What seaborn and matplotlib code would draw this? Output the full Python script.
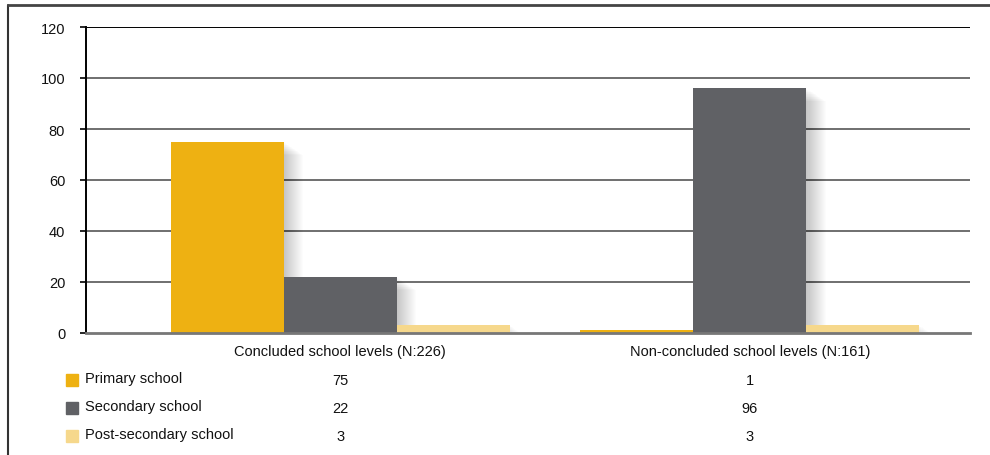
import matplotlib
matplotlib.use("Agg")
import matplotlib.pyplot as plt
import matplotlib.patheffects as pe
import matplotlib.transforms as mtransforms
from matplotlib.patches import Rectangle
from matplotlib.lines import Line2D
import seaborn as sns
import pandas as pd

categories = ["Concluded school levels (N:226)", "Non-concluded school levels (N:161)"]
series = ["Primary school", "Secondary school", "Post-secondary school"]
primary = [75, 1]
secondary = [22, 96]
post_secondary = [3, 3]
colors = ["#EEB112", "#606165", "#F6D88C"]
yticks = [0, 20, 40, 60, 80, 100, 120]

rows = []
for s, vals in zip(series, [primary, secondary, post_secondary]):
    for c, v in zip(categories, vals):
        rows.append({"category": c, "series": s, "value": v})
df = pd.DataFrame(rows)

sns.set_theme(style="white")
plt.rcParams["font.family"] = ["Liberation Sans", "DejaVu Sans"]

W, H = 990, 456
fig = plt.figure(figsize=(W / 100, H / 100), dpi=100)
ax = fig.add_axes([86 / W, 1 - 334 / H, (970 - 86) / W, (334 - 28) / H])

# gridlines
for t in yticks[1:]:
    ax.axhline(t, color="black" if t == 120 else "#6f6f6f", lw=1.4, zorder=0)

shadow = [pe.SimplePatchShadow(offset=(d * 0.75, -d * 0.5), shadow_rgbFace="black", alpha=0.012)
          for d in range(1, 20)] + [pe.Normal()]

sns.barplot(data=df, x="category", y="value", hue="series", order=categories,
            hue_order=series, palette=colors, width=0.827, saturation=1,
            legend=False, ax=ax, zorder=2, edgecolor="none")
for p in ax.patches:
    p.set_path_effects(shadow)

ax.set_xlim(-0.62, 1.537)
ax.set_ylim(0, 120)
ax.set_yticks(yticks)
ax.set_yticklabels([str(t) for t in yticks], fontsize=10.5, color="#111111")
ax.tick_params(axis="y", length=4, width=1.2, color="black", pad=11, left=True)
ax.tick_params(axis="x", length=0, pad=8, labelsize=10.5, labelcolor="#111111")
ax.set_xlabel("")
ax.set_ylabel("")
for s in ["top", "right"]:
    ax.spines[s].set_visible(False)
ax.spines["left"].set_color("black")
ax.spines["left"].set_linewidth(1.4)
ax.spines["bottom"].set_color("#777777")
ax.spines["bottom"].set_linewidth(2.0)
ax.spines["bottom"].set_zorder(3)
for lab in ax.get_yticklabels():
    lab.set_horizontalalignment("right")

# table below
row_y = [381, 409, 437]
blend = mtransforms.blended_transform_factory(ax.transData, fig.transFigure)
for i, (s, vals) in enumerate(zip(series, [primary, secondary, post_secondary])):
    yf = 1 - row_y[i] / H
    fig.patches.append(Rectangle((66 / W, yf - 6 / H), 12 / W, 12 / H,
                                 transform=fig.transFigure, color=colors[i]))
    fig.text(85 / W, yf + 2 / H, s, fontsize=10.5, va="center", ha="left", color="#111111")
    for j, v in enumerate(vals):
        ax.text(j, yf, str(v), transform=blend, fontsize=10.5, va="center",
                ha="center", color="#111111", clip_on=False)

# outer frame
fig.add_artist(Line2D([8 / W, 8 / W], [0, 1 - 6 / H], transform=fig.transFigure,
                      color="#333333", lw=1.5))
fig.add_artist(Line2D([8 / W, 1], [1 - 6 / H, 1 - 6 / H], transform=fig.transFigure,
                      color="#444444", lw=2.0))

fig.savefig("out.png", dpi=100)
